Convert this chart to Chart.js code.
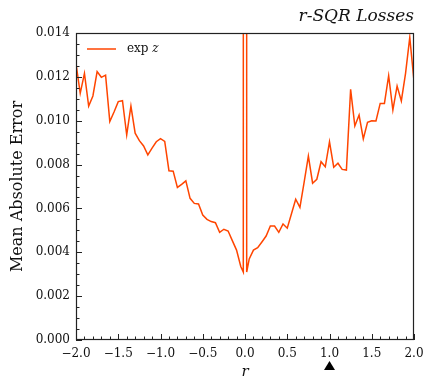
<!DOCTYPE html>
<html>
<head>
<meta charset="utf-8">
<script src="https://cdn.jsdelivr.net/npm/chart.js@4.4.1/dist/chart.umd.min.js"></script>
<style>
  html, body { margin: 0; padding: 0; background: #fff; }
</style>
</head>
<body>
<canvas id="myChart" width="423" height="381"></canvas>
<script>
// r values (x) and mean absolute error (y)
const rValues = [
  -2.00, -1.95, -1.90, -1.85, -1.80, -1.75, -1.70, -1.65, -1.60, -1.55,
  -1.50, -1.45, -1.40, -1.35, -1.30, -1.25, -1.20, -1.15, -1.10, -1.05,
  -1.00, -0.95, -0.90, -0.85, -0.80, -0.75, -0.70, -0.65, -0.60, -0.55,
  -0.50, -0.45, -0.40, -0.35, -0.30, -0.25, -0.20, -0.15, -0.10, -0.05,
  -0.02, 0.00, 0.02,
  0.05, 0.10, 0.15, 0.20, 0.25, 0.30, 0.35, 0.40, 0.45, 0.50,
  0.55, 0.60, 0.65, 0.70, 0.75, 0.80, 0.85, 0.90, 0.95, 1.00,
  1.05, 1.10, 1.15, 1.20, 1.25, 1.30, 1.35, 1.40, 1.45, 1.50,
  1.55, 1.60, 1.65, 1.70, 1.75, 1.80, 1.85, 1.90, 1.95, 2.00
];

const maeExpZ = [
  0.0126, 0.01125, 0.01216, 0.01067, 0.01113, 0.01224, 0.01198, 0.01208, 0.00996, 0.0104,
  0.01087, 0.01091, 0.00935, 0.01067, 0.00943, 0.00909, 0.00885, 0.00844, 0.00875, 0.00904,
  0.00918, 0.00906, 0.00772, 0.0077, 0.00696, 0.0071, 0.00726, 0.00646, 0.00623, 0.0062,
  0.0057, 0.0055, 0.0054, 0.00535, 0.00491, 0.00505, 0.00497, 0.00453, 0.0041, 0.00335,
  0.0031, 1.0, 0.0031,
  0.0037, 0.0041, 0.00421, 0.00447, 0.00474, 0.0052, 0.0052, 0.00491, 0.00529, 0.0051,
  0.00576, 0.00642, 0.00605, 0.0072, 0.00839, 0.00715, 0.00733, 0.00813, 0.0079, 0.00904,
  0.00788, 0.00806, 0.00778, 0.00775, 0.01143, 0.00976, 0.01026, 0.00917, 0.00993, 0.0100,
  0.00999, 0.01079, 0.01079, 0.01205, 0.01049, 0.01158, 0.0109, 0.01216, 0.0138, 0.0118
];

const xTicks = [-2.0, -1.5, -1.0, -0.5, 0.0, 0.5, 1.0, 1.5, 2.0];
const yTicks = [0.000, 0.002, 0.004, 0.006, 0.008, 0.010, 0.012, 0.014];
const markerR = 1.0; // triangle under the x axis

const titleText = "r-SQR Losses";
const serif = "'DejaVu Serif', serif";
const lineColor = "#ff4500";

// ticks pointing inwards, frame, legend, title and marker
const decorations = {
  id: "decorations",
  afterDraw(chart) {
    const { ctx, chartArea: a, scales: { x, y } } = chart;
    ctx.save();

    ctx.strokeStyle = "#222";
    ctx.lineWidth = 1;

    // minor + major ticks on the left axis
    for (let i = 0; i <= 28; i++) {
      const py = Math.round(y.getPixelForValue(i * 0.0005)) + 0.5;
      const len = i % 4 === 0 ? 6 : 3.5;
      ctx.beginPath();
      ctx.moveTo(a.left, py);
      ctx.lineTo(a.left + len, py);
      ctx.stroke();
    }
    // minor + major ticks on the bottom axis
    for (let i = 0; i <= 40; i++) {
      const px = Math.round(x.getPixelForValue(-2 + i * 0.1)) + 0.5;
      const len = i % 5 === 0 ? 6 : 3.5;
      ctx.beginPath();
      ctx.moveTo(px, a.bottom);
      ctx.lineTo(px, a.bottom - len);
      ctx.stroke();
    }

    // frame
    ctx.lineWidth = 1.2;
    ctx.strokeRect(a.left + 0.5, a.top + 0.5, a.right - a.left - 1, a.bottom - a.top - 1);

    // legend
    ctx.strokeStyle = lineColor;
    ctx.lineWidth = 1.5;
    ctx.beginPath();
    ctx.moveTo(87, 49);
    ctx.lineTo(116, 49);
    ctx.stroke();
    ctx.fillStyle = "#111";
    ctx.textBaseline = "middle";
    ctx.textAlign = "left";
    ctx.font = "12px " + serif;
    ctx.fillText("exp ", 127, 49);
    const w = ctx.measureText("exp ").width;
    ctx.font = "italic 12px " + serif;
    ctx.fillText("z", 127 + w, 49);

    // title
    ctx.font = "italic 17px " + serif;
    ctx.textAlign = "right";
    ctx.textBaseline = "alphabetic";
    ctx.fillText(titleText, a.right, 21);

    // marker triangle
    const mx = x.getPixelForValue(markerR);
    ctx.fillStyle = "#000";
    ctx.beginPath();
    ctx.moveTo(mx, 361);
    ctx.lineTo(mx - 5.5, 370);
    ctx.lineTo(mx + 5.5, 370);
    ctx.closePath();
    ctx.fill();

    ctx.restore();
  }
};

const canvas = document.getElementById("myChart");

const myChart = new Chart(canvas, {
  type: "line",
  data: {
    datasets: [
      {
        label: "exp z",
        data: rValues.map((r, i) => ({ x: r, y: maeExpZ[i] })),
        borderColor: lineColor,
        borderWidth: 1.5,
        pointRadius: 0,
        tension: 0,
        fill: false,
      },
    ],
  },
  options: {
    responsive: false,
    devicePixelRatio: 1,
    animation: false,
    layout: { padding: { left: 0, right: 9, top: 33, bottom: 0 } },
    plugins: {
      legend: { display: false },
      tooltip: { enabled: false },
    },
    scales: {
      x: {
        type: "linear",
        min: -2,
        max: 2,
        afterBuildTicks: (scale) => {
          scale.ticks = xTicks.map((v) => ({ value: v }));
        },
        afterFit: (scale) => {
          scale.height = 41;
          scale.paddingLeft = 0;
          scale.paddingRight = 0;
        },
        grid: { display: false, drawTicks: false },
        border: { display: false },
        ticks: {
          autoSkip: false,
          maxRotation: 0,
          padding: 7,
          color: "#111",
          font: { family: serif, size: 12 },
          callback: (v) => (v < 0 ? "\u2212" : "") + Math.abs(v).toFixed(1),
        },
        title: {
          display: true,
          text: "r",
          color: "#111",
          font: { family: serif, size: 15, style: "italic", lineHeight: 1 },
          padding: { top: 0, bottom: 1 },
        },
      },
      y: {
        min: 0,
        max: 0.014,
        afterBuildTicks: (scale) => {
          scale.ticks = yTicks.map((v) => ({ value: v }));
        },
        afterFit: (scale) => {
          scale.width = 76;
          scale.paddingTop = 0;
          scale.paddingBottom = 0;
        },
        grid: { display: false, drawTicks: false },
        border: { display: false },
        ticks: {
          padding: 6,
          color: "#111",
          font: { family: serif, size: 12 },
          callback: (v) => v.toFixed(3),
        },
        title: {
          display: true,
          text: "Mean Absolute Error",
          color: "#111",
          font: { family: serif, size: 16, lineHeight: 1 },
          padding: { top: 10, bottom: 0 },
        },
      },
    },
  },
  plugins: [decorations],
});
</script>
</body>
</html>
